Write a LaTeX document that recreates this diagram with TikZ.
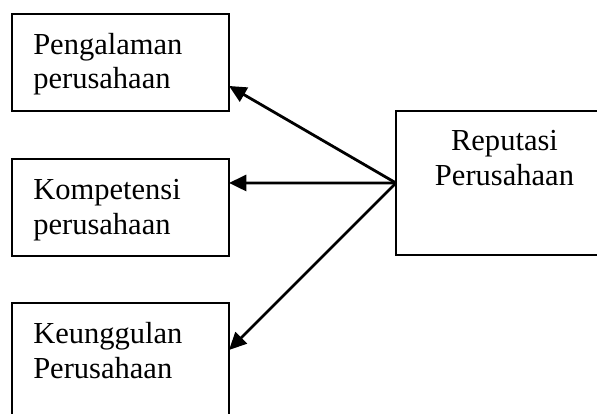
\documentclass[tikz,border=0pt]{standalone}
\usepackage{fontspec}
\setmainfont{Liberation Serif}
\usetikzlibrary{positioning,arrows.meta}

\begin{document}
\begin{tikzpicture}[x=0.75pt, y=-0.75pt]
      \tikzstyle{box}=[rectangle, draw=black, line width=1.9pt, minimum width=162.75pt, minimum height=72.75pt, inner sep=0pt, outer sep=0pt]
      \tikzstyle{lbl}=[font=\fontsize{22.9}{26.25}\selectfont, align=left, inner sep=0pt, anchor=base west]
      \tikzstyle{connect}=[-{Triangle[length=13pt, width=12pt]}, line width=2.1pt]

      \useasboundingbox (0,0) rectangle (597,414);
      \clip (0,0) rectangle (597,414);

      \node[box] (peng) at (120.5,62.5) {};
      \node[box] (komp) [below=36pt of peng] {};
      \node[box, minimum height=90pt] (keung) [below=35.25pt of komp] {};
      \node[box, minimum height=108pt] (rep) at (504.5,183) {};

      % base anchor of a two-line label sits on its last line
      \node[lbl] (pengtxt) at ([shift={(15.75pt,-56.25pt)}]peng.north west) {Pengalaman\\perusahaan};
      \node[lbl] (komptxt) at ([shift={(15.75pt,-56.25pt)}]komp.north west) {Kompetensi\\perusahaan};
      \node[lbl] (keungtxt) at ([shift={(15.75pt,-56.25pt)}]keung.north west) {Keunggulan\\Perusahaan};
      \node[lbl, align=center, anchor=base] (reptxt) at ([yshift=-55.5pt]rep.north) {Reputasi\\Perusahaan};

      \draw[connect] (rep.west) -- ([yshift=-17.6pt]peng.east);
      \draw[connect] (rep.west) -- ([yshift=18.4pt]komp.east);
      \draw[connect] (rep.west) -- ([yshift=-35.25pt]keung.north east);
\end{tikzpicture}
\end{document}
